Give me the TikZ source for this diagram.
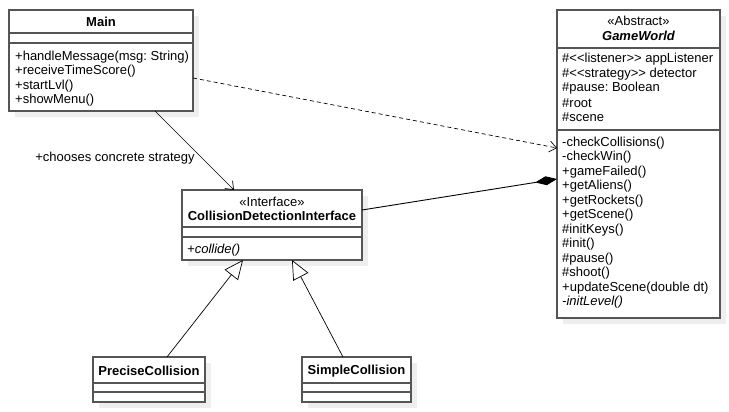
\documentclass[tikz,border=0pt]{standalone}
\usepackage{fontspec}
\setmainfont{Liberation Sans}
\usetikzlibrary{arrows.meta,calc}
\definecolor{boxgray}{HTML}{555555}
\definecolor{shadowgray}{HTML}{EEEEEE}
\frenchspacing
\begin{document}
\begin{tikzpicture}[x=1pt,y=-1pt,
  umlbox/.style={draw=boxgray, line width=1.4pt, fill=white, inner sep=0pt, outer sep=0pt, anchor=north west},
  sepline/.style={draw=boxgray, line width=1.4pt},
  txt/.style={anchor=west, inner sep=0pt, font=\fontsize{13}{14}\selectfont},
  ctxt/.style={anchor=center, inner sep=0pt, font=\fontsize{13}{14}\selectfont},
  conn/.style={draw=black, line width=0.7pt},
]
\useasboundingbox (0,0) rectangle (729,412);
\fill[white] (0,0) rectangle (729,412);

% shadows
\fill[shadowgray] (15,16) rectangle (199,117);
\fill[shadowgray] (563,16) rectangle (726,324);
\fill[shadowgray] (188,196) rectangle (368,266);
\fill[shadowgray] (99,363) rectangle (211,408);
\fill[shadowgray] (308,363) rectangle (417,408);

% Main
\node[umlbox, minimum width=184pt, minimum height=101pt] (main) at (9,10) {};
\draw[sepline] (9,33) -- (193,33);
\draw[sepline] (9,43) -- (193,43);
\node[ctxt, font=\fontsize{13}{14}\selectfont\bfseries] (mainT) at (101,22) {Main};
\node[txt] (m1) at (15,57) {+handleMessage(msg: String)};
\node[txt] (m2) at (15,71.5) {+receiveTimeScore()};
\node[txt] (m3) at (15,86) {+startLvl()};
\node[txt] (m4) at (15,100.5) {+showMenu()};

% GameWorld
\node[umlbox, minimum width=163pt, minimum height=308pt] (gw) at (557,10) {};
\draw[sepline] (557,48) -- (720,48);
\draw[sepline] (557,130) -- (720,130);
\node[ctxt] (gwS) at (638.5,21) {«Abstract»};
\node[ctxt, font=\fontsize{13}{14}\selectfont\bfseries\itshape] (gwT) at (638.5,36) {GameWorld};
\node[txt] (a1) at (562,59.5) {\#<{}<listener>{}> appListener};
\node[txt] (a2) at (562,74) {\#<{}<strategy>{}> detector};
\node[txt] (a3) at (562,88.5) {\#pause: Boolean};
\node[txt] (a4) at (562,103) {\#root};
\node[txt] (a5) at (562,117.5) {\#scene};
\node[txt] (g1) at (562,143) {-checkCollisions()};
\node[txt] (g2) at (562,157.5) {-checkWin()};
\node[txt] (g3) at (562,172) {+gameFailed()};
\node[txt] (g4) at (562,186.5) {+getAliens()};
\node[txt] (g5) at (562,201) {+getRockets()};
\node[txt] (g6) at (562,215.5) {+getScene()};
\node[txt] (g7) at (562,230) {\#initKeys()};
\node[txt] (g8) at (562,244.5) {\#init()};
\node[txt] (g9) at (562,259) {\#pause()};
\node[txt] (g10) at (562,273.5) {\#shoot()};
\node[txt] (g11) at (562,288) {+updateScene(double dt)};
\node[txt, font=\fontsize{13}{14}\selectfont\itshape] (g12) at (562,302.5) {-initLevel()};

% Interface
\node[umlbox, minimum width=180pt, minimum height=70pt] (cdi) at (182,190) {};
\draw[sepline] (182,227) -- (362,227);
\draw[sepline] (182,237) -- (362,237);
\node[ctxt] (cdiS) at (272,202) {«Interface»};
\node[ctxt, font=\fontsize{13}{14}\selectfont\bfseries] (cdiT) at (272,216) {CollisionDetectionInterface};
\node[txt, font=\fontsize{13}{14}\selectfont\itshape] (c1) at (187,250) {+collide()};

% PreciseCollision
\node[umlbox, minimum width=112pt, minimum height=45pt] (pc) at (93,357) {};
\draw[sepline] (93,383) -- (205,383);
\draw[sepline] (93,392) -- (205,392);
\node[ctxt, font=\fontsize{13}{14}\selectfont\bfseries] (pcT) at (149,371) {PreciseCollision};

% SimpleCollision
\node[umlbox, minimum width=109pt, minimum height=45pt] (sc) at (302,357) {};
\draw[sepline] (302,383) -- (411,383);
\draw[sepline] (302,392) -- (411,392);
\node[ctxt, font=\fontsize{13}{14}\selectfont\bfseries] (scT) at (356.5,371) {SimpleCollision};

% connectors
\draw[conn, -{Straight Barb[length=7pt,width=11pt]}] ($(main.south west)+(146,0)$) -- ($(cdi.north west)+(52,0)$);
\node[ctxt] (lbl) at (115,158) {+chooses concrete strategy};

\draw[conn, dashed, dash pattern=on 4pt off 3pt, -{Straight Barb[length=7pt,width=11pt]}] ($(main.north east)+(0,68)$) -- ($(gw.north west)+(0,138)$);

\draw[conn, line width=0.9pt, -{Diamond[length=22pt,width=9pt]}] ($(cdi.north east)+(0,20)$) -- ($(gw.north west)+(0,169)$);

\draw[conn, -{Triangle[open,length=19pt,width=17pt,fill=white]}] ($(pc.north west)+(74,0)$) -- ($(cdi.south west)+(61,0)$);
\draw[conn, -{Triangle[open,length=19pt,width=17pt,fill=white]}] ($(sc.north west)+(41,0)$) -- ($(cdi.south west)+(110,0)$);
\end{tikzpicture}
\end{document}
